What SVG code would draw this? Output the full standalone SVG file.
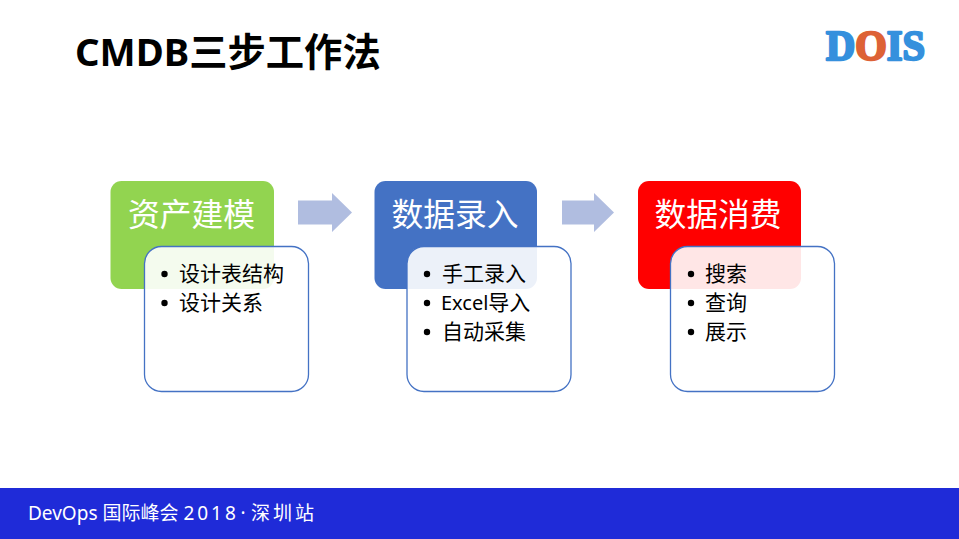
<svg xmlns="http://www.w3.org/2000/svg" width="959" height="539" viewBox="0 0 959 539">
<style>
text{font-family:"Noto Sans","Noto Sans CJK SC",sans-serif}
.h{font-size:31.800px;fill:#fff;text-anchor:middle}
.b{fill:#fff;fill-opacity:.9;stroke:#4472c4;stroke-width:1.3}
.t{font-size:21px;fill:#000}
.arrow{fill:#b0bde0}
.logo{font-family:"Liberation Serif",serif;font-weight:700;font-size:42px;stroke-width:2.400;stroke-linejoin:round}
</style>
<rect width="959" height="539" fill="#fff"/>
<text id="title" x="75" y="66" font-size="38.300" font-weight="700" fill="#000">CMDB三步工作法</text>
<g id="logo"><text class="logo" x="826" y="60" textLength="99" lengthAdjust="spacingAndGlyphs"><tspan fill="#3590dd" stroke="#3590dd">D</tspan><tspan fill="#dd6236" stroke="#dd6236">O</tspan><tspan fill="#3590dd" stroke="#3590dd">IS</tspan></text></g>
<g id="connectors">
<path class="arrow" d="M298 200.500H332V193L352 212.500L332 232V224.500H298Z"/>
<path class="arrow" d="M562 200.500H594V193L614 212.500L594 232V224.500H562Z"/>
</g>
<g id="node1">
<rect x="110.500" y="181" width="163.500" height="108" rx="11" fill="#92d450"/>
<text class="h" x="191.500" y="226">资产建模</text>
<rect class="b" x="144.500" y="246.500" width="164" height="145" rx="17"/>
<circle cx="164.500" cy="274" r="3.200"/><text class="t" x="179" y="281">设计表结构</text>
<circle cx="164.500" cy="303" r="3.200"/><text class="t" x="179" y="310">设计关系</text>
</g>
<g id="node2">
<rect x="374.500" y="181" width="162.500" height="108" rx="11" fill="#4472c4"/>
<text class="h" x="455" y="226">数据录入</text>
<rect class="b" x="407" y="246.500" width="164" height="145" rx="17"/>
<circle cx="427" cy="274" r="3.200"/><text class="t" x="442" y="281">手工录入</text>
<circle cx="427" cy="303" r="3.200"/><text class="t" x="441" y="310"><tspan font-size="20">Excel</tspan>导入</text>
<circle cx="427" cy="332" r="3.200"/><text class="t" x="442" y="339">自动采集</text>
</g>
<g id="node3">
<rect x="638" y="181" width="163" height="108" rx="11" fill="#ff0000"/>
<text class="h" x="718" y="226">数据消费</text>
<rect class="b" x="670.500" y="246.500" width="164" height="145" rx="17"/>
<circle cx="691" cy="274" r="3.200"/><text class="t" x="705" y="281">搜索</text>
<circle cx="691" cy="303" r="3.200"/><text class="t" x="705" y="310">查询</text>
<circle cx="691" cy="332" r="3.200"/><text class="t" x="705" y="339">展示</text>
</g>
<g id="footer">
<rect y="488" width="959" height="51" fill="#1f2bd8"/>
<text x="28" y="520" font-size="19" fill="#fff">DevOps 国际峰会 <tspan letter-spacing="3">2018</tspan><tspan x="240.500">·</tspan><tspan x="251" letter-spacing="3">深圳站</tspan></text>
</g>
</svg>
